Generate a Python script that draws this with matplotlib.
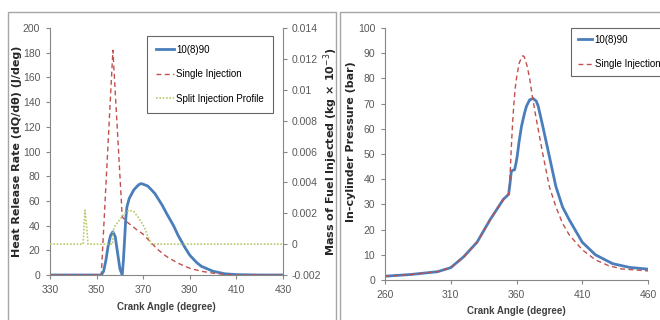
import matplotlib
matplotlib.use("Agg")
import matplotlib.pyplot as plt
from matplotlib.patches import Rectangle
from matplotlib import font_manager

installed = {f.name for f in font_manager.fontManager.ttflist}
narrow = 'Liberation Sans Narrow' if 'Liberation Sans Narrow' in installed else 'Liberation Sans'
plt.rcParams['font.family'] = [narrow, 'DejaVu Sans']

# heat release rate (J/deg) vs crank angle
hrr_split_angle = [330, 350, 352, 353, 354, 355, 356, 357, 358, 359, 360, 361, 361.5, 362, 362.5, 363, 364, 366,
                   368, 369, 370, 372, 375, 378, 380, 383, 385, 388, 390, 393, 395, 400, 405, 410, 420, 430]
hrr_split = [0, 0, 0, 3, 12, 24, 32, 35, 31, 18, 5, 0, 12, 28, 45, 55, 62, 69,
             73, 74, 73.5, 72, 66, 57, 50, 40, 32, 22, 16, 10, 7, 3, 1, 0.3, 0, 0]

hrr_single_angle = [330, 350, 352, 357, 361, 363, 365, 367, 370, 373, 376, 380, 385, 390, 395, 400, 405, 410, 430]
hrr_single = [0, 0, 0, 182, 47, 43, 40, 37, 33, 27, 21, 15, 9.5, 5.4, 3, 1.5, 0.5, 0, 0]

# split injection profile (kg x 10^-3), right axis
inj_angle = [330, 344.2, 344.5, 345.0, 345.8, 346.3, 356.8, 357.2, 358, 360, 362, 364, 366, 368, 370.5, 372, 373.5, 430]
inj_mass = [0, 0, 0.0008, 0.0022, 0.0010, 0, 0, 0.0009, 0.0012, 0.0016, 0.0020, 0.0022, 0.0021, 0.0017, 0.0011, 0.0005, 0, 0]

# in-cylinder pressure (bar)
p_split_angle = [260, 280, 300, 310, 320, 330, 340, 350, 354, 355, 356, 357, 358.5, 359.5, 360.5, 362, 363.8,
                 366, 367.6, 370, 372.7, 375, 376.5, 380, 385, 390, 395, 400, 410, 420, 433, 446, 460]
p_split = [1.5, 2.2, 3.3, 4.9, 9.3, 15, 24, 32, 34, 38, 43, 43.5, 43.7, 46, 49, 55, 61,
           66, 69, 71.5, 72, 71, 69, 61, 49, 37, 29, 24, 15, 10, 6.5, 5, 4.3]

p_single_angle = [260, 280, 300, 310, 320, 330, 340, 350, 354, 355, 356, 357, 358, 359, 360, 362, 364, 365,
                  366, 368, 370, 372, 375, 380, 385, 390, 395, 400, 410, 420, 430, 440, 460]
p_single = [1.5, 2.2, 3.3, 4.9, 9.3, 15, 24, 32, 34, 40, 52, 62, 70, 76, 80, 86, 88.5, 89,
            88.5, 85, 80, 73, 64, 50, 37, 29, 22.5, 18, 12, 8, 5.7, 4.4, 3.6]

blue = '#4a7ebb'
red = '#c0504d'
green = '#b8c96a'
tick_col = '#595959'
spine_col = '#868686'
bold_fam = ['DejaVu Sans']

fig = plt.figure(figsize=(6.6, 3.2), dpi=100)

# chart area borders
fig.patches.append(Rectangle((8 / 660, -0.05), 328 / 660, 1.05 - 12 / 320, transform=fig.transFigure,
                             fill=False, edgecolor='#a6a6a6', linewidth=1.0))
fig.patches.append(Rectangle((340 / 660, -0.05), 330 / 660, 1.05 - 12 / 320, transform=fig.transFigure,
                             fill=False, edgecolor='#a6a6a6', linewidth=1.0))


def style(ax):
    for s in ['top', 'right']:
        ax.spines[s].set_visible(False)
    for s in ['left', 'bottom']:
        ax.spines[s].set_color(spine_col)
        ax.spines[s].set_linewidth(0.8)
    ax.tick_params(colors=spine_col, labelcolor=tick_col, labelsize=7.5, length=3, width=0.8, pad=4)


def legend_frame(lg):
    lg.get_frame().set_edgecolor('#404040')
    lg.get_frame().set_linewidth(0.8)


# ---- left: heat release rate ----
ax1 = fig.add_axes([50 / 660, 1 - 275 / 320, 233 / 660, 247 / 320])
style(ax1)
l1, = ax1.plot(hrr_split_angle, hrr_split, color=blue, lw=2.0, label='10(8)90')
l2, = ax1.plot(hrr_single_angle, hrr_single, color=red, lw=1.0, ls=(0, (3.5, 2.5)), label='Single Injection')
ax1.set_xlim(330, 430)
ax1.set_ylim(0, 200)
ax1.set_xticks(range(330, 431, 20))
ax1.set_yticks(range(0, 201, 20))
ax1.set_xlabel('Crank Angle (degree)', fontsize=7, fontweight='bold', color='#404040')
ax1.xaxis.set_label_coords(0.5, -0.11)
ax1.set_ylabel('Heat Release Rate (dQ/d\u03b8) (J/deg)', fontsize=8, fontweight='bold',
               family=bold_fam, color='#262626')
ax1.yaxis.set_label_coords(-0.12, 0.5)

ax2 = ax1.twinx()
for s in ['top', 'left', 'bottom']:
    ax2.spines[s].set_visible(False)
ax2.spines['right'].set_color(spine_col)
ax2.spines['right'].set_linewidth(0.8)
ax2.tick_params(colors=spine_col, labelcolor=tick_col, labelsize=7.5, length=3, width=0.8)
l3, = ax2.plot(inj_angle, inj_mass, color=green, lw=1.2, ls=(0, (1, 1)), label='Split Injection Profile')
ax2.set_ylim(-0.002, 0.014)
r_ticks = [-0.002, 0, 0.002, 0.004, 0.006, 0.008, 0.01, 0.012, 0.014]
r_labels = ['-0.002', '0', '0.002', '0.004', '0.006', '0.008', '0.01', '0.012', '0.014']
ax2.set_yticks(r_ticks)
ax2.set_yticklabels(r_labels)
ax2.set_ylabel('Mass of Fuel Injected (kg \u00d7 10$^{-3}$)', fontsize=8, fontweight='bold',
               family=bold_fam, color='#262626')
ax2.yaxis.set_label_coords(1.165, 0.5)

leg = ax1.legend(handles=[l1, l2, l3], loc='upper right', bbox_to_anchor=(0.957, 0.968),
                 fontsize=7, frameon=True, fancybox=False, handlelength=1.9, borderpad=0.9,
                 labelspacing=1.5, handletextpad=0.25, borderaxespad=0)
legend_frame(leg)

# ---- right: in-cylinder pressure ----
ax3 = fig.add_axes([385 / 660, 1 - 280 / 320, 263 / 660, 252 / 320])
style(ax3)
m1, = ax3.plot(p_split_angle, p_split, color=blue, lw=2.0, label='10(8)90')
m2, = ax3.plot(p_single_angle, p_single, color=red, lw=1.0, ls=(0, (3.5, 2.5)), label='Single Injection')
ax3.set_xlim(260, 460)
ax3.set_ylim(0, 100)
ax3.set_xticks(range(260, 461, 50))
ax3.set_yticks(range(0, 101, 10))
ax3.set_xlabel('Crank Angle (degree)', fontsize=7, fontweight='bold', color='#404040')
ax3.xaxis.set_label_coords(0.5, -0.103)
ax3.set_ylabel('In-cylinder Pressure (bar)', fontsize=8, fontweight='bold',
               family=bold_fam, color='#262626')
ax3.yaxis.set_label_coords(-0.11, 0.55)
leg2 = ax3.legend(handles=[m1, m2], loc='upper left', bbox_to_anchor=(0.707, 1.0),
                  fontsize=7, frameon=True, fancybox=False, handlelength=1.5, borderpad=0.7,
                  labelspacing=1.5, handletextpad=0.25, borderaxespad=0)
legend_frame(leg2)

fig.savefig('out.png', dpi=100, facecolor='white')
